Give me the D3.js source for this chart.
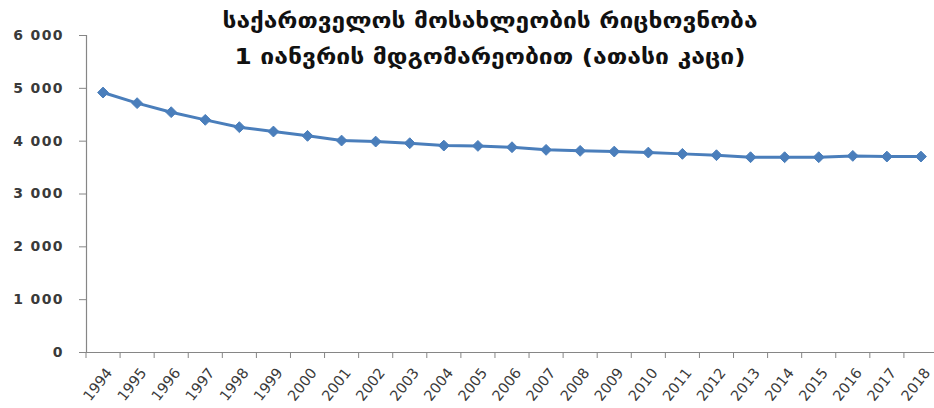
<!DOCTYPE html>
<html>
<head>
<meta charset="utf-8">
<script src="https://cdn.jsdelivr.net/npm/d3@7"></script>
<style>
  body { margin: 0; background: #fff; }
  svg { display: block; }
  .tick text { font-family: Verdana, "DejaVu Sans", sans-serif; fill: #3a3a3a; }
</style>
</head>
<body>
<div id="chart"></div>
<script>
var years = [1994, 1995, 1996, 1997, 1998, 1999, 2000, 2001, 2002, 2003, 2004, 2005,
  2006, 2007, 2008, 2009, 2010, 2011, 2012, 2013, 2014, 2015, 2016, 2017, 2018]
var population = [4911, 4710, 4539, 4394, 4255, 4173, 4091, 4002, 3983, 3952, 3907, 3901,
  3876, 3826, 3807, 3794, 3775, 3750, 3725, 3687, 3687, 3687, 3712, 3699, 3699]
var yTicks = [0, 1000, 2000, 3000, 4000, 5000, 6000]
var titleLines = ['საქართველოს მოსახლეობის რიცხოვნობა', '1 იანვრის მდგომარეობით (ათასი კაცი)']

var data = years.map(function(y, i){ return {year: y, value: population[i]} })

var width = 934, height = 408
var svg = d3.select('#chart').append('svg').attr('width', width).attr('height', height)

var x = d3.scaleBand().domain(years).range([86, 938])
var y = d3.scaleLinear().domain([0, 6000]).range([352, 35])

var axisColor = '#868686'

// title, stretched to the width it has in the original
var titleWidths = [535, 511]
svg.append('g').selectAll('text').data(titleLines).join('text')
  .attr('x', 490).attr('y', function(d, i){ return i ? 64 : 28 })
  .attr('text-anchor', 'middle')
  .attr('textLength', function(d, i){ return titleWidths[i] })
  .attr('lengthAdjust', 'spacingAndGlyphs')
  .style('font-family', '"DejaVu Sans Condensed", "DejaVu Sans", sans-serif')
  .style('font-weight', 'bold')
  .style('font-size', '22px')
  .style('fill', '#111')
  .text(function(d){ return d })

// y axis
var yAxis = svg.append('g').attr('transform', 'translate(86,0)')
  .call(d3.axisLeft(y).tickValues(yTicks).tickSize(7)
    .tickFormat(function(d){ return d3.format(',')(d).replace(',', ' ') }))
yAxis.select('.domain').attr('stroke', axisColor).attr('stroke-width', 1.2)
yAxis.selectAll('.tick line').attr('stroke', axisColor)
yAxis.selectAll('.tick text')
  .style('font-size', '14px')
  .style('letter-spacing', '1.4px')
  .style('font-weight', 600)
  .attr('x', -22)

// x axis
var xAxis = svg.append('g').attr('transform', 'translate(0,352)')
  .call(d3.axisBottom(x).tickSize(0).tickPadding(0))
xAxis.select('.domain').attr('stroke', axisColor).attr('stroke-width', 1.2)
xAxis.selectAll('.tick text')
  .style('font-size', '14.5px')
  .attr('text-anchor', 'end')
  .attr('dy', 0)
  .attr('transform', 'translate(10,21) rotate(-52)')

// category boundary ticks
var edges = years.map(function(d){ return x(d) }).concat([x.range()[1]])
svg.append('g').selectAll('line').data(edges).join('line')
  .attr('x1', function(d){ return d }).attr('x2', function(d){ return d })
  .attr('y1', 352).attr('y2', 358)
  .attr('stroke', axisColor)

var cx = function(d){ return x(d.year) + x.bandwidth() / 2 }

// line
svg.append('path')
  .datum(data)
  .attr('fill', 'none')
  .attr('stroke', '#4a7ebb')
  .attr('stroke-width', 3)
  .attr('d', d3.line().x(cx).y(function(d){ return y(d.value) }))

// diamond markers
svg.append('g').selectAll('path').data(data).join('path')
  .attr('d', d3.symbol(d3.symbolDiamond2, 75))
  .attr('transform', function(d){ return 'translate(' + cx(d) + ',' + y(d.value) + ')' })
  .attr('fill', '#4a7ebb')
  .attr('stroke', '#4a7ebb')
  .attr('stroke-width', 1)
</script>
</body>
</html>
